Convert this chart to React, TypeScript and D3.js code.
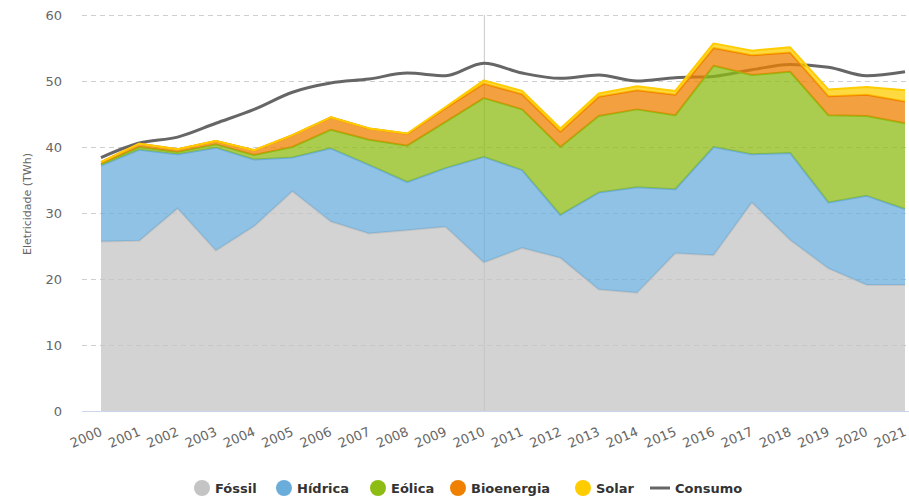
import React from 'react';
import * as d3 from 'd3';

const years = ['2000','2001','2002','2003','2004','2005','2006','2007','2008','2009','2010','2011','2012','2013','2014','2015','2016','2017','2018','2019','2020','2021'];
const fossil = [25.7, 25.8, 30.7, 24.3, 28.0, 33.3, 28.7, 26.9, 27.4, 27.9, 22.5, 24.7, 23.2, 18.4, 17.9, 23.9, 23.6, 31.6, 25.9, 21.6, 19.1, 19.1];
const hidrica = [11.5, 13.8, 8.2, 15.6, 10.1, 5.1, 11.1, 10.4, 7.3, 8.9, 16.0, 11.8, 6.5, 14.7, 16.0, 9.7, 16.4, 7.3, 13.2, 10.0, 13.5, 11.5];
const eolica = [0.2, 0.4, 0.35, 0.5, 0.7, 1.6, 2.8, 3.8, 5.5, 7.0, 8.9, 9.2, 10.3, 11.6, 11.8, 11.2, 12.3, 12.0, 12.3, 13.2, 12.1, 13.0];
const bioenergia = [0.3, 0.5, 0.4, 0.5, 0.7, 1.8, 1.9, 1.7, 1.8, 2.1, 2.2, 2.3, 2.3, 2.9, 2.9, 3.1, 2.7, 3.0, 2.9, 2.9, 3.2, 3.3];
const solar = [0, 0, 0, 0, 0, 0, 0, 0.02, 0.04, 0.15, 0.5, 0.5, 0.5, 0.5, 0.6, 0.6, 0.7, 0.7, 0.8, 1.0, 1.2, 1.7];
const consumo = [38.4, 40.6, 41.5, 43.6, 45.7, 48.3, 49.7, 50.3, 51.2, 50.8, 52.7, 51.2, 50.4, 50.9, 50.0, 50.5, 50.7, 51.7, 52.5, 52.1, 50.8, 51.4];
const yTicks = [0, 10, 20, 30, 40, 50, 60];
const seriesNames = ['Fóssil', 'Hídrica', 'Eólica', 'Bioenergia', 'Solar'];
const seriesColors = ['#c4c4c4', '#6aaddb', '#8dbc14', '#ef8000', '#ffcc00'];
const consumoName = 'Consumo';
const consumoColor = '#666666';
const markerYear = '2010';

const W = 909, H = 498;
const plotLeft = 82, plotRight = 909, plotTop = 15, plotBottom = 411;
const FONT = '"DejaVu Sans", Verdana, sans-serif';

export default function App() {
  const seriesData = [fossil, hidrica, eolica, bioenergia, solar];
  const rows = years.map((y, i) => {
    const r: any = { year: y };
    seriesNames.forEach((n, k) => { r[n] = seriesData[k][i]; });
    return r;
  });
  const stacked = d3.stack().keys(seriesNames)(rows as any);

  const x = d3.scalePoint<string>().domain(years).range([101, 905]);
  const y = d3.scaleLinear().domain([0, 60]).range([plotBottom, plotTop]);

  const area = d3.area<any>()
    .x((d: any) => x(d.data.year) as number)
    .y0((d: any) => y(d[0]))
    .y1((d: any) => y(d[1]));
  const topLine = d3.line<any>()
    .x((d: any) => x(d.data.year) as number)
    .y((d: any) => y(d[1]));
  const consLine = d3.line<number>()
    .x((_d, i) => x(years[i]) as number)
    .y((d) => y(d))
    .curve(d3.curveMonotoneX);

  const legendCx = [202, 284, 378, 458, 583];
  const legendY = 488;

  return (
    <svg width={W} height={H} style={{ position: 'absolute', left: 0, top: 0, fontFamily: FONT }}>
      <rect width={W} height={H} fill="#fff" />
      {yTicks.filter(t => t > 0).map(t => (
        <line key={t} x1={plotLeft} x2={plotRight} y1={y(t) + 0.5} y2={y(t) + 0.5}
          stroke="#cfcfcf" strokeWidth={1} strokeDasharray="5,4" />
      ))}
      <line x1={(x(markerYear) as number) + 0.5} x2={(x(markerYear) as number) + 0.5} y1={plotTop} y2={plotBottom}
        stroke="#c8c8c8" strokeWidth={1} />
      <path d={consLine(consumo) as string} fill="none" stroke={consumoColor} strokeWidth={3} strokeLinejoin="round" />
      {stacked.map((s, k) => (
        <g key={seriesNames[k]}>
          <path d={area(s as any) as string} fill={seriesColors[k]} fillOpacity={0.75} />
          <path d={topLine(s as any) as string} fill="none" stroke={seriesColors[k]} strokeWidth={2} strokeLinejoin="round" />
        </g>
      ))}
      <line x1={plotLeft} x2={plotRight} y1={plotBottom + 0.5} y2={plotBottom + 0.5} stroke="#ccd6eb" strokeWidth={1} />
      {yTicks.map(t => (
        <text key={t} x={62} y={y(t) + 4.5} textAnchor="end" fontSize={13} fill="#666">{t}</text>
      ))}
      <text transform={`translate(31,204) rotate(-90)`} textAnchor="middle" fontSize={11} fill="#666">Eletricidade (TWh)</text>
      {years.map(yr => (
        <text key={yr} transform={`translate(${(x(yr) as number) + 2},435) rotate(-23)`} textAnchor="end" fontSize={13} fill="#666">{yr}</text>
      ))}
      {seriesNames.map((n, k) => (
        <g key={n}>
          <circle cx={legendCx[k]} cy={legendY} r={8} fill={seriesColors[k]} />
          <text x={legendCx[k] + 13} y={legendY + 5} fontSize={13} fontWeight="bold" fill="#333">{n}</text>
        </g>
      ))}
      <line x1={650} x2={670} y1={legendY} y2={legendY} stroke={consumoColor} strokeWidth={3} />
      <text x={675} y={legendY + 5} fontSize={13} fontWeight="bold" fill="#333">{consumoName}</text>
    </svg>
  );
}
